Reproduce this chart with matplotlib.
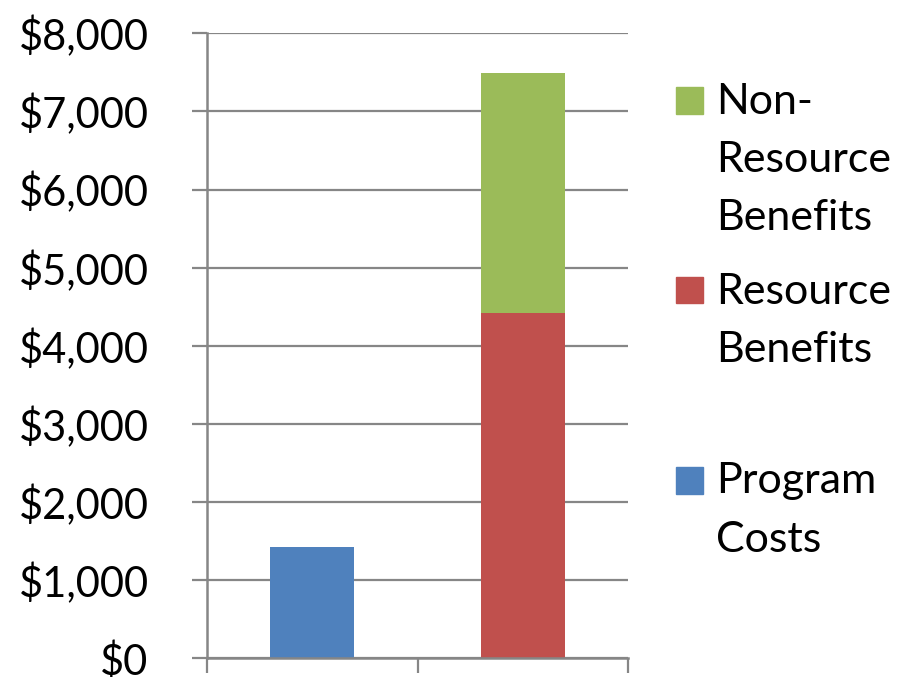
import matplotlib.pyplot as plt
from matplotlib.patches import Rectangle
from matplotlib.ticker import FuncFormatter, FixedLocator

plt.rcParams['font.family'] = ['Lato', 'DejaVu Sans']

# data
positions = [1, 2]
program_costs = [1425, 0]
resource_benefits = [0, 4420]
non_resource_benefits = [0, 3070]

labels = ["Non-\nResource\nBenefits", "Resource\nBenefits", "Program\nCosts"]
colors = ["#9BBB59", "#C0504D", "#4F81BD"]
grid_col = "#868686"

fig = plt.figure(figsize=(9.09, 6.77), dpi=100)
ax = fig.add_axes([207 / 909, 1 - 658.3 / 677, (628 - 207) / 909, (658.3 - 33.3) / 677])

w = 0.4
ax.bar(positions, program_costs, w, color=colors[2], zorder=3)
ax.bar(positions, resource_benefits, w, color=colors[1], zorder=3)
ax.bar(positions, non_resource_benefits, w, bottom=resource_benefits,
       color=colors[0], zorder=3)

ax.set_xlim(0.5, 2.5)
ax.set_ylim(0, 8000)
ax.set_yticks(range(0, 8001, 1000))
ax.yaxis.set_major_formatter(FuncFormatter(lambda v, p: "${:,.0f}".format(v)))
ax.xaxis.set_major_locator(FixedLocator([0.5, 1.5, 2.5]))
ax.set_xticklabels([])
ax.grid(axis='y', color=grid_col, linewidth=1.6, zorder=0)

for s in ['top', 'right']:
    ax.spines[s].set_visible(False)
for s in ['left', 'bottom']:
    ax.spines[s].set_color(grid_col)
    ax.spines[s].set_linewidth(1.8)
    ax.spines[s].set_zorder(4)

ax.tick_params(axis='both', direction='out', length=11, width=1.6, color=grid_col)
ax.tick_params(axis='y', labelsize=30, pad=31)

# legend, drawn by hand to match the stacked layout of the original
handle_px = [87, 277, 467]
for lab, col, hy in zip(labels, colors, handle_px):
    fig.add_artist(Rectangle((676 / 909, 1 - (hy + 26.5) / 677), 27 / 909, 26.5 / 677,
                             color=col, transform=fig.transFigure))
    fig.text(716 / 909, 1 - (hy + 26.5 - 31) / 677, lab, fontsize=31, va='top',
             ha='left', linespacing=1.65)

fig.savefig("out.png", dpi=100)
